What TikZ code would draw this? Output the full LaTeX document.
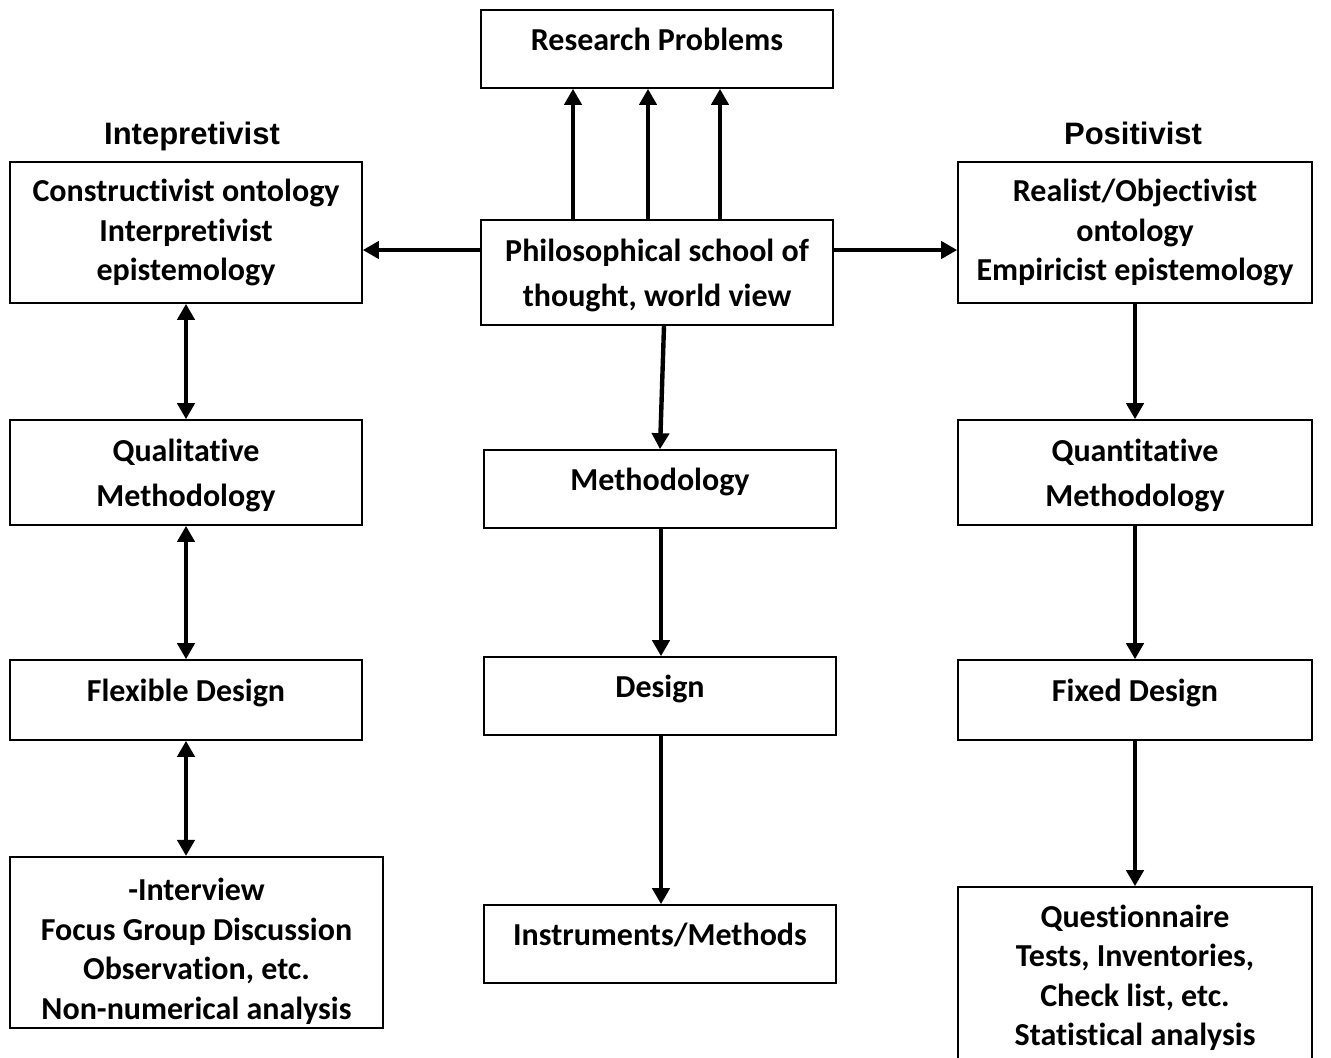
\documentclass[tikz,border=0pt]{standalone}
\usepackage{fontspec}
\setmainfont[Ligatures={NoCommon,NoContextual}]{Carlito}
\newfontfamily\headfont{Liberation Sans}
\usetikzlibrary{arrows.meta}

\begin{document}
\begin{tikzpicture}[
  x=0.5pt, y=-0.5pt,
  box/.style={
    draw, line width=0.8pt, minimum width=176pt, inner sep=2pt,
    align=center, font=\fontsize{16}{19.75}\selectfont\bfseries
  },
  oneline/.style={
    box, minimum height=39pt, text height=10pt, text depth=9pt
  },
  spaced/.style={
    box, font=\fontsize{16}{22.25}\selectfont\bfseries
  },
  head/.style={font=\headfont\fontsize{15.5}{18}\selectfont\bfseries,
    text height=11pt, text depth=3pt},
  arr/.style={-{Triangle[length=8pt, width=8.5pt]}, line width=2.2pt},
  darr/.style={{Triangle[length=8pt, width=8.5pt]}-{Triangle[length=8pt, width=8.5pt]},
    line width=2.2pt},
]
\clip (0,0) rectangle (1331,1057);
\fill[white] (0,0) rectangle (1331,1057);

%% ---- Centre column ----
\node[oneline] (rp) at (657,49) {Research Problems};
\node[spaced, minimum height=52.5pt] (phil) at (657,272.5)
  {\rule{0pt}{14pt}Philosophical school of\\thought, world view};
\node[oneline] (meth) at (660,489) {Methodology};
\node[oneline] (design) at (660,696) {Design};
\node[oneline] (instr) at (660,944) {Instruments/Methods};

%% ---- Left column (headings at y = 136) ----
\node[head] (interp) at (192,136) {Intepretivist};
\node[box, minimum height=70.5pt] (cons) at (186,232.5)
  {Constructivist ontology\\Interpretivist\\epistemology};
\node[spaced, minimum height=52.5pt] (qual) at (186,472.5)
  {\rule{0pt}{14pt}Qualitative\\Methodology};
\node[oneline, minimum height=40pt] (flex) at (186,700) {Flexible Design};
\node[box, minimum width=186.5pt, minimum height=84.5pt] (intv) at (196.5,942.5)
  {\rule{0pt}{20pt}-Interview\\Focus Group Discussion\\Observation, etc.\\Non-numerical analysis};

%% ---- Right column ----
\node[head] (posit) at (1133,136) {Positivist};
\node[box, minimum width=177pt, minimum height=70.5pt] (real) at (1135,232.5)
  {Realist/Objectivist\\ontology\\Empiricist epistemology};
\node[spaced, minimum width=177pt, minimum height=52.5pt] (quant) at (1135,472.5)
  {\rule{0pt}{14pt}Quantitative\\Methodology};
\node[oneline, minimum width=177pt, minimum height=40pt] (fixed) at (1135,700) {Fixed Design};
\node[box, minimum width=177pt, minimum height=91pt] (quest) at (1135,978)
  {Questionnaire\\Tests, Inventories,\\Check list, etc.\\Statistical analysis};

%% ---- Arrows up to research problems ----
\foreach \xx in {573,648,720}{
  \draw[arr] (phil.north -| \xx,0) -- (rp.south -| \xx,0);
}

%% ---- Arrows out to both schools ----
\draw[arr] (phil.west |- 0,250) -- (cons.east |- 0,250);
\draw[arr] (phil.east |- 0,250) -- (real.west |- 0,250);

%% ---- Centre chain ----
\draw[arr] ([xshift=3.5pt]phil.south) -- (meth.north);
\draw[arr] ([xshift=0.5pt]meth.south) -- ([xshift=0.5pt]design.north);
\draw[arr] ([xshift=0.5pt]design.south) -- ([xshift=0.5pt]instr.north);

%% ---- Left chain (two-way) ----
\draw[darr] (cons.south) -- (qual.north);
\draw[darr] (qual.south) -- (flex.north);
\draw[darr] (flex.south) -- (intv.north -| flex.south);

%% ---- Right chain ----
\draw[arr] (real.south) -- (quant.north);
\draw[arr] (quant.south) -- (fixed.north);
\draw[arr] (fixed.south) -- (quest.north);

\end{tikzpicture}
\end{document}
